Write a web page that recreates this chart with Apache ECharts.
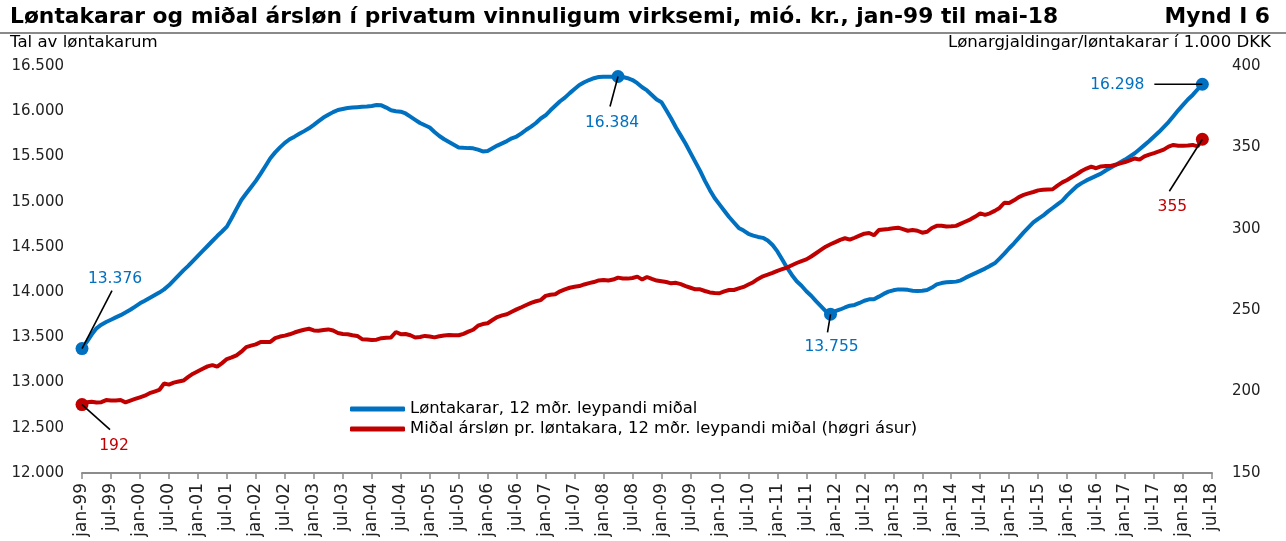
<!DOCTYPE html>
<html>
<head>
<meta charset="utf-8">
<script src="https://cdn.jsdelivr.net/npm/echarts@6/dist/echarts.min.js"></script>
<style>
  html, body { margin: 0; padding: 0; background: #fff; }
  #chart { width: 1286px; height: 541px; }
</style>
</head>
<body>
<div id="chart"></div>
<script>
// month names and years for the category axis (jan-99 .. jul-18)
var maanadir = ['jan', 'feb', 'mar', 'apr', 'mai', 'jun', 'jul', 'aug', 'sep', 'okt', 'nov', 'des'];
var firstYear = 1999, lastYear = 2018, lastMonth = 6; // axis runs to jul-18

// Løntakarar, 12 mðr. leypandi miðal (jan-99 .. mai-18), left axis
var loentakarar = [
  13376, 13450, 13530, 13600, 13640, 13670, 13695, 13720, 13745, 13775, 13805, 13840,
  13876, 13905, 13935, 13965, 13995, 14030, 14075, 14130, 14185, 14240, 14290, 14345,
  14400, 14455, 14510, 14565, 14620, 14670, 14724, 14820, 14920, 15019, 15090, 15160,
  15230, 15310, 15395, 15480, 15545, 15600, 15650, 15690, 15719, 15750, 15780, 15811,
  15850, 15890, 15930, 15960, 15990, 16014, 16025, 16035, 16040, 16045, 16050, 16052,
  16058, 16068, 16065, 16040, 16010, 16000, 15995, 15975, 15940, 15905, 15870, 15845,
  15820, 15770, 15726, 15690, 15660, 15630, 15600, 15595, 15592, 15590, 15575, 15555,
  15560, 15590, 15620, 15645, 15670, 15700, 15720, 15755, 15795, 15830, 15870, 15920,
  15955, 16010, 16060, 16110, 16150, 16200, 16245, 16290, 16320, 16345, 16365, 16378,
  16382, 16382, 16382, 16384, 16378, 16365, 16345, 16310, 16265, 16230, 16180, 16130,
  16100, 16010, 15920, 15820, 15730, 15640, 15540, 15440, 15340, 15230, 15130, 15040,
  14970, 14900, 14830, 14770, 14710, 14680, 14645, 14625, 14610, 14600, 14570, 14520,
  14450, 14360, 14270, 14190, 14120, 14070, 14010, 13960, 13900, 13845, 13790, 13755,
  13790, 13808, 13830, 13850, 13858, 13880, 13905, 13920, 13922, 13950, 13980, 14005,
  14020, 14030, 14030, 14025, 14015, 14012, 14015, 14023, 14050, 14085, 14100, 14108,
  14112, 14116, 14130, 14160, 14185, 14210, 14235, 14260, 14290, 14318, 14370, 14425,
  14485, 14540, 14600, 14660, 14715, 14770, 14810, 14845, 14890, 14930, 14970, 15010,
  15070, 15120, 15170, 15205, 15235, 15260, 15285, 15310, 15345, 15375, 15405, 15435,
  15465, 15500, 15535, 15580, 15625, 15670, 15720, 15770, 15825, 15880, 15945, 16010,
  16070, 16130, 16180, 16240, 16298
];

// Miðal ársløn pr. løntakara, 1.000 DKK (jan-99 .. mai-18), right axis
var midalArslon = [
  192, 193.5, 193.8, 193.3, 193.5, 194.8, 194.6, 194.5, 194.8, 193.4, 194.5, 195.5,
  196.5, 197.5, 199, 200, 201, 205, 204.3, 205.5, 206.2, 206.8, 209, 211,
  212.5, 214, 215.5, 216.3, 215.3, 217.5, 220, 221, 222.3, 224.5, 227.3, 228.2,
  229, 230.5, 230.5, 230.5, 232.8, 233.8, 234.4, 235.2, 236.3, 237.2, 238, 238.6,
  237.6, 237.4, 237.8, 238.2, 237.5, 236, 235.4, 235.2, 234.6, 234.2, 232.2, 232,
  231.7, 231.9, 232.8, 233.1, 233.3, 236.6, 235.3, 235.4, 234.6, 233.2, 233.5, 234.2,
  233.8, 233.3, 234, 234.5, 234.7, 234.6, 234.6, 235.5, 236.8, 238, 240.5, 241.5,
  242, 244, 245.8, 246.8, 247.5, 249, 250.5, 251.8, 253.2, 254.5, 255.5, 256.2,
  258.8, 259.5, 259.8, 261.6, 262.8, 263.8, 264.4, 264.8, 265.8, 266.6, 267.3, 268.3,
  268.6, 268.3, 268.8, 270, 269.5, 269.4, 269.8, 270.6, 268.8, 270.4, 269.2, 268.2,
  267.8, 267.3, 266.5, 266.8, 266, 264.8, 263.8, 262.8, 262.8, 261.8, 260.9, 260.6,
  260.4, 261.6, 262.4, 262.4, 263.4, 264.3, 265.8, 267.2, 269.2, 270.8, 271.8, 272.9,
  274.2, 275.2, 276.2, 277.6, 279, 280.2, 281.2, 283, 285, 287, 289, 290.5,
  291.8, 293.2, 294.2, 293.3, 294.5, 295.8, 297, 297.4, 296, 299.2, 299.6, 299.9,
  300.3, 300.7, 299.8, 298.8, 299.2, 298.8, 297.6, 298.2, 300.5, 301.8, 301.9, 301.4,
  301.5, 301.8, 303.2, 304.5, 305.8, 307.5, 309.5, 308.6, 309.5, 311, 312.8, 316,
  315.8, 317.5, 319.5, 320.8, 321.8, 322.6, 323.6, 324, 324.2, 324.3, 326.5, 328.5,
  330, 331.8, 333.5, 335.5, 337, 338.2, 337.2, 338.3, 338.6, 338.6, 339.3, 340.2,
  341, 342, 343.2, 342.5, 344.5, 345.6, 346.5, 347.5, 348.6, 350.5, 351.5, 351,
  351, 351.2, 351.5, 350.6, 355
];

// months that carry a value label: jan-99, apr-08, des-11, mai-18 / jan-99, mai-18
var blueMarks = [0, 111, 155, 232];
var redMarks = [0, 232];

var BLUE = '#0070C0';
var RED = '#C00000';
var FONT = '"DejaVu Sans", Verdana, sans-serif';

var categories = [];
for (var y = firstYear; y <= lastYear; y++) {
  for (var m = 0; m < 12; m++) {
    if (y === lastYear && m > lastMonth) break;
    categories.push(maanadir[m] + '-' + String(y).slice(2));
  }
}

function fmt(v) {
  return String(Math.round(v)).replace(/\B(?=(\d{3})+(?!\d))/g, '.');
}

// per label: leader-line end and text centre, px relative to the dot
var blueCallouts = [
  { line: [30, -58], text: [33, -70] },
  { line: [-8, 30], text: [-6, 46] },
  { line: [-3, 18], text: [1, 33] },
  { line: [-48, 0], text: [-85, 1] }
];
var redCallouts = [
  { line: [28, 25], text: [32, 41] },
  { line: [-33, 52], text: [-30, 68] }
];

var myChart = echarts.init(document.getElementById('chart'));

function markSeries(idxs, vals, color, callouts, yIndex) {
  return {
    type: 'custom',
    yAxisIndex: yIndex,
    z: 5,
    silent: true,
    data: idxs.map(function (i, k) { return [i, vals[i], k]; }),
    renderItem: function (params, api) {
      var p = api.coord([api.value(0), api.value(1)]);
      var c = callouts[api.value(2)];
      return {
        type: 'group',
        children: [
          { type: 'circle', shape: { cx: p[0], cy: p[1], r: 6.5 }, style: { fill: color } },
          {
            type: 'line',
            shape: { x1: p[0], y1: p[1], x2: p[0] + c.line[0], y2: p[1] + c.line[1] },
            style: { stroke: '#000', lineWidth: 1.6 }
          },
          {
            type: 'text',
            style: {
              text: fmt(api.value(1)),
              x: p[0] + c.text[0], y: p[1] + c.text[1],
              align: 'center', verticalAlign: 'middle',
              fill: color, font: '15.5px ' + FONT
            }
          }
        ]
      };
    }
  };
}

myChart.setOption({
  animation: false,
  textStyle: { fontFamily: FONT },
  title: [
    {
      text: 'Løntakarar og miðal ársløn í privatum vinnuligum virksemi, mió. kr., jan-99 til mai-18',
      left: 10, top: 6, padding: 0,
      textStyle: { fontSize: 21.8, fontWeight: 'bold', color: '#000', fontFamily: FONT }
    },
    {
      text: 'Mynd I 6',
      right: 16, top: 6, padding: 0,
      textStyle: { fontSize: 21.8, fontWeight: 'bold', color: '#000', fontFamily: FONT }
    },
    {
      text: 'Tal av løntakarum',
      left: 10, top: 34, padding: 0,
      textStyle: { fontSize: 16.6, fontWeight: 'normal', color: '#000', fontFamily: FONT }
    },
    {
      text: 'Lønargjaldingar/løntakarar í 1.000 DKK',
      right: 15, top: 34, padding: 0,
      textStyle: { fontSize: 16.6, fontWeight: 'normal', color: '#000', fontFamily: FONT }
    }
  ],
  graphic: [
    {
      type: 'line',
      shape: { x1: 0, y1: 33, x2: 1286, y2: 33 },
      style: { stroke: '#8a8a8a', lineWidth: 2 }
    }
  ],
  legend: {
    orient: 'vertical',
    left: 350, top: 399, padding: 0,
    itemWidth: 55, itemHeight: 5, itemGap: 0,
    icon: 'roundRect',
    data: ['Løntakarar, 12 mðr. leypandi miðal', 'Miðal ársløn pr. løntakara, 12 mðr. leypandi miðal (høgri ásur)'],
    textStyle: { fontSize: 16.4, color: '#000', fontFamily: FONT, lineHeight: 20 }
  },
  grid: { left: 82, right: 74, top: 66, bottom: 68 },
  xAxis: {
    type: 'category',
    data: categories,
    boundaryGap: false,
    axisLine: { lineStyle: { color: '#8c8c8c', width: 2 } },
    axisTick: { interval: 5, length: 6, lineStyle: { color: '#8c8c8c', width: 1.5 } },
    axisLabel: { interval: 5, rotate: 90, margin: 10, fontSize: 17, color: '#222', fontFamily: FONT }
  },
  yAxis: [
    {
      type: 'value', min: 12000, max: 16500, interval: 500,
      axisLine: { show: false }, axisTick: { show: false }, splitLine: { show: false },
      axisLabel: { margin: 18, fontSize: 15, color: '#222', fontFamily: FONT, formatter: fmt }
    },
    {
      type: 'value', min: 150, max: 400, interval: 50,
      axisLine: { show: false }, axisTick: { show: false }, splitLine: { show: false },
      axisLabel: { margin: 20, fontSize: 15, color: '#222', fontFamily: FONT }
    }
  ],
  series: [
    {
      name: 'Løntakarar, 12 mðr. leypandi miðal',
      type: 'line',
      data: loentakarar,
      yAxisIndex: 0,
      showSymbol: false,
      symbol: 'none',
      lineStyle: { color: BLUE, width: 4 },
      itemStyle: { color: BLUE },
      emphasis: { disabled: true },
      z: 2
    },
    {
      name: 'Miðal ársløn pr. løntakara, 12 mðr. leypandi miðal (høgri ásur)',
      type: 'line',
      data: midalArslon,
      yAxisIndex: 1,
      showSymbol: false,
      symbol: 'none',
      lineStyle: { color: RED, width: 4 },
      itemStyle: { color: RED },
      emphasis: { disabled: true },
      z: 3
    },
    markSeries(blueMarks, loentakarar, BLUE, blueCallouts, 0),
    markSeries(redMarks, midalArslon, RED, redCallouts, 1)
  ]
});
</script>
</body>
</html>
